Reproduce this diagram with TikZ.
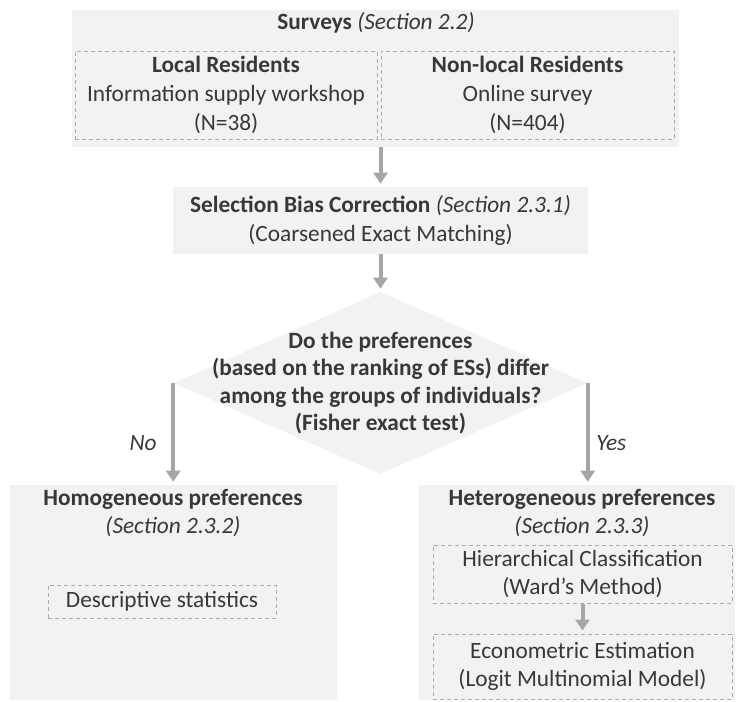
\documentclass[tikz,border=0pt]{standalone}
\usepackage{fontspec}
\setmainfont{Carlito}
\usepackage{tikz}
\usetikzlibrary{positioning,shapes.geometric,arrows.meta}
\newlength\pxu
\setlength\pxu{0.75pt}
\definecolor{panelgray}{HTML}{F2F2F2}
\definecolor{linegray}{HTML}{A6A6A6}
\definecolor{dashgray}{HTML}{ABABAB}
\definecolor{inkgray}{HTML}{383838}
\tikzset{
  panel/.style={fill=panelgray, draw=none, inner sep=0pt, align=center},
  subbox/.style={panel, draw=dashgray, dash pattern=on 3pt off 2.25pt, line width=0.75pt},
  caption/.style={inner sep=0pt, align=center},
  decision/.style={diamond, fill=panelgray, inner sep=0pt},
  flow/.style={draw=linegray, line width=3pt, -{Triangle[width=10.5pt,length=8.25pt]}, shorten >=2.25pt},
}

\begin{document}
\begin{tikzpicture}[x=\pxu, y=-\pxu, node distance=30\pxu,
  every node/.style={text=inkgray, font=\fontsize{17.5}{21.5}\selectfont}]
\useasboundingbox (0,0) rectangle (736,701);
% surveys block
\node[panel, minimum width=607\pxu, minimum height=137\pxu] (surveys) at (375.5,78.5) {};
\node[caption] (surveystitle) at (376,23) {\textbf{Surveys} \textit{(Section 2.2)}};
\node[subbox, minimum width=302\pxu, minimum height=88\pxu] (local) at (226,95)
  {\textbf{Local Residents}\\Information supply workshop\\(N=38)};
\node[subbox, minimum width=293\pxu, minimum height=88\pxu] (nonlocal) [right = 3\pxu of local]
  {\textbf{Non-local Residents}\\Online survey\\(N=404)};
% correction and test
\node[panel, minimum width=415\pxu, minimum height=67\pxu] (selection) at (380.5,220.5)
  {\textbf{Selection Bias Correction} \textit{(Section 2.3.1)}\\(Coarsened Exact Matching)};
\node[decision, minimum width=414\pxu, minimum height=182\pxu] (decision) at (380.5,383) {};
\node[caption, font=\bfseries\fontsize{17.5}{20.5}\selectfont] (question) at (decision)
  {Do the preferences\\(based on the ranking of ESs) differ\\among the groups of individuals?\\(Fisher exact test)};
% outcomes
\node[panel, minimum width=327\pxu, minimum height=215\pxu] (homog) at (173.5,592.5) {};
\node[caption] (homogtitle) at (173,513) {\textbf{Homogeneous preferences}\\\textit{(Section 2.3.2)}};
\node[subbox, minimum width=228\pxu, minimum height=33\pxu] (descriptive) at (162,601.5) {Descriptive statistics};
\node[panel, minimum width=316\pxu, minimum height=215\pxu] (hetero) at (577,592.5) {};
\node[caption] (heterotitle) at (582,513) {\textbf{Heterogeneous preferences}\\\textit{(Section 2.3.3)}};
\node[subbox, minimum width=299\pxu, minimum height=58\pxu] (ward) at (582.5,574)
  {Hierarchical Classification\\(Ward’s Method)};
\node[subbox, minimum width=299\pxu, minimum height=65\pxu] (multi) [below = 22.5pt of ward]
  {Econometric Estimation\\(Logit Multinomial Model)};
\draw[flow] (surveys.south -| selection.north) -- (selection.north);
\draw[flow] (selection.south) -- (decision.north);
\draw[flow] (decision.west) -- (decision.west |- homog.north)
  node[pos=0.59, left=10.9pt, inner sep=0pt] {\textit{No}};
\draw[flow] (decision.east) -- (decision.east |- hetero.north)
  node[pos=0.59, right=4.9pt, inner sep=0pt] {\textit{Yes}};
\draw[flow] (ward.south) -- (multi.north);
\end{tikzpicture}
\end{document}
